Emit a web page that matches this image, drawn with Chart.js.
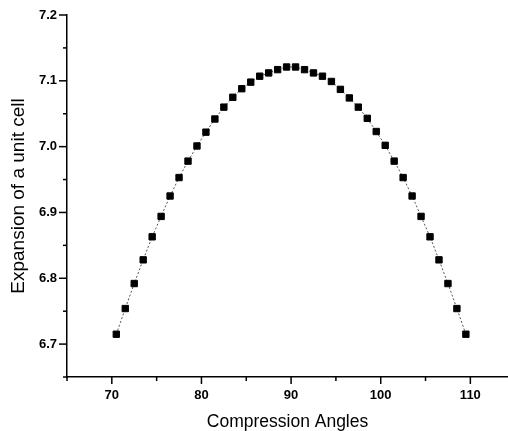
<!DOCTYPE html>
<html>
<head>
<meta charset="utf-8">
<script src="https://cdn.jsdelivr.net/npm/chart.js@4.4.1/dist/chart.umd.min.js"></script>
<style>
  html, body { margin: 0; padding: 0; background: #fff; }
  #wrap { width: 508px; height: 431px; }
</style>
</head>
<body>
<div id="wrap"><canvas id="chart" width="508" height="431"></canvas></div>
<script>
// compression angle (deg) vs expansion of a unit cell
const angles = [
  70.5, 71.5, 72.5, 73.5, 74.5, 75.5, 76.5, 77.5, 78.5, 79.5,
  80.5, 81.5, 82.5, 83.5, 84.5, 85.5, 86.5, 87.5, 88.5, 89.5,
  90.5, 91.5, 92.5, 93.5, 94.5, 95.5, 96.5, 97.5, 98.5, 99.5,
  100.5, 101.5, 102.5, 103.5, 104.5, 105.5, 106.5, 107.5, 108.5, 109.5
];
const expansion = [
  6.715, 6.754, 6.792, 6.828, 6.863, 6.894, 6.925, 6.953, 6.978, 7.001,
  7.022, 7.042, 7.060, 7.075, 7.088, 7.098, 7.107, 7.112, 7.117, 7.121,
  7.121, 7.117, 7.112, 7.107, 7.099, 7.087, 7.074, 7.060, 7.043, 7.023,
  7.002, 6.978, 6.953, 6.925, 6.894, 6.863, 6.828, 6.792, 6.754, 6.715
];
const xTicks = [65, 70, 75, 80, 85, 90, 95, 100, 105, 110];
const yTicks = [6.65, 6.7, 6.75, 6.8, 6.85, 6.9, 6.95, 7.0, 7.05, 7.1, 7.15, 7.2];

const isMajorX = (v) => v % 10 === 0;
const isMajorY = (v) => Math.round(v * 100) % 10 === 0;

// outward tick marks, long for labelled values, short for the ones in between
const tickMarks = {
  id: "tickMarks",
  afterDraw(chart) {
    const { ctx, chartArea } = chart;
    const xs = chart.scales.x;
    const ys = chart.scales.y;
    ctx.save();
    ctx.strokeStyle = "#000";
    ctx.lineWidth = 1.5;
    xTicks.forEach((v) => {
      if (v < xs.min || v > xs.max) return;
      const px = xs.getPixelForValue(v);
      const len = isMajorX(v) ? 7 : 4;
      ctx.beginPath();
      ctx.moveTo(px, chartArea.bottom);
      ctx.lineTo(px, chartArea.bottom + len);
      ctx.stroke();
    });
    yTicks.forEach((v) => {
      if (v < ys.min - 1e-9 || v > ys.max + 1e-9) return;
      const py = ys.getPixelForValue(v);
      const len = isMajorY(v) ? 8 : 4;
      ctx.beginPath();
      ctx.moveTo(chartArea.left, py);
      ctx.lineTo(chartArea.left - len, py);
      ctx.stroke();
    });
    ctx.restore();
  },
};

const ctx = document.getElementById("chart").getContext("2d");
new Chart(ctx, {
  type: "scatter",
  data: {
    datasets: [
      {
        data: angles.map((a, i) => ({ x: a, y: expansion[i] })),
        showLine: true,
        borderColor: "#555",
        borderWidth: 1,
        borderDash: [2, 2],
        pointStyle: "rect",
        pointRadius: 4.5,
        pointBorderWidth: 1,
        pointBackgroundColor: "#000",
        pointBorderColor: "#000",
      },
    ],
  },
  options: {
    responsive: false,
    animation: false,
    events: [],
    layout: { autoPadding: false, padding: { top: 15, right: 0, bottom: 0, left: 0 } },
    plugins: {
      legend: { display: false },
      tooltip: { enabled: false },
    },
    scales: {
      x: {
        type: "linear",
        min: 65,
        max: 114.2,
        afterBuildTicks: (scale) => {
          scale.ticks = xTicks.filter((v) => v >= scale.min && v <= scale.max).map((v) => ({ value: v }));
        },
        afterFit: (scale) => {
          scale.height = 54;
        },
        grid: { display: false, drawTicks: true, tickLength: 7 },
        border: { display: true, color: "#000", width: 1.5 },
        ticks: {
          padding: 4,
          color: "#000",
          font: { family: "'Liberation Sans', Arial, sans-serif", size: 13, weight: "bold" },
          callback: (value) => (isMajorX(value) ? String(value) : ""),
          maxRotation: 0,
          autoSkip: false,
        },
        title: {
          display: true,
          text: "Compression Angles",
          color: "#000",
          padding: { top: 0, bottom: 0 },
          font: { family: "'Liberation Sans', Arial, sans-serif", size: 17.5, lineHeight: 1 },
        },
      },
      y: {
        type: "linear",
        min: 6.65,
        max: 7.2,
        afterBuildTicks: (scale) => {
          scale.ticks = yTicks.map((v) => ({ value: v }));
        },
        afterFit: (scale) => {
          scale.width = 67;
        },
        grid: { display: false, drawTicks: true, tickLength: 8 },
        border: { display: true, color: "#000", width: 1.5 },
        ticks: {
          padding: 2,
          color: "#000",
          font: { family: "'Liberation Sans', Arial, sans-serif", size: 13, weight: "bold" },
          callback: (value) => (isMajorY(value) ? value.toFixed(1) : ""),
          autoSkip: false,
        },
        title: {
          display: true,
          text: "Expansion of a unit cell",
          color: "#000",
          padding: { top: 7, bottom: 0 },
          font: { family: "'Liberation Sans', Arial, sans-serif", size: 19 },
        },
      },
    },
  },
  plugins: [tickMarks],
});
</script>
</body>
</html>
